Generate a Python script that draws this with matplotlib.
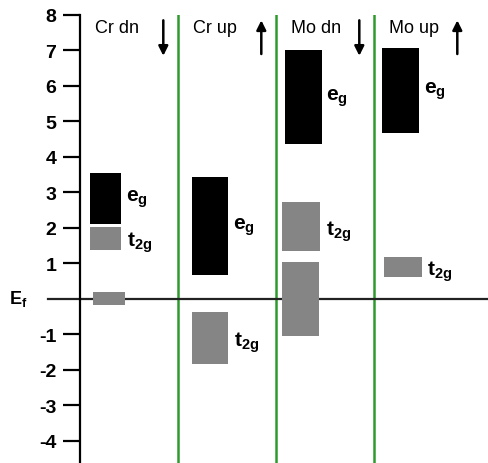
import matplotlib
matplotlib.use('Agg')
import matplotlib.pyplot as plt

plt.rcParams['font.family'] = ['Liberation Sans', 'DejaVu Sans']
plt.rcParams['mathtext.fontset'] = 'custom'
plt.rcParams['mathtext.rm'] = 'Liberation Sans'
plt.rcParams['mathtext.bf'] = 'Liberation Sans:bold'

# d-level energies (eV) relative to E_f for each metal / spin channel
columns = ['Cr dn', 'Cr up', 'Mo dn', 'Mo up']
spins = ['dn', 'up', 'dn', 'up']
eg_lo = [2.10, 0.67, 4.36, 4.67]
eg_hi = [3.55, 3.44, 7.00, 7.07]
t2g_lo = [1.38, -1.84, 1.34, 0.61]
t2g_hi = [2.02, -0.38, 2.72, 1.19]
# unlabelled t2g-like bands straddling the Fermi level
ef_col = [0, 2]
ef_lo = [-0.17, -1.04]
ef_hi = [0.20, 1.03]
yticks = [-4, -3, -2, -1, 1, 2, 3, 4, 5, 6, 7, 8]

# box placement inside each column (column width = 1)
eg_x = [0.10, 1.14, 2.09, 3.085]
eg_w = [0.32, 0.37, 0.375, 0.375]
t2g_x = [0.097, 1.14, 2.064, 3.105]
t2g_w = [0.32, 0.37, 0.39, 0.38]
ef_x = [0.13, 2.058]
ef_w = [0.33, 0.385]

fig = plt.figure(figsize=(4.88, 4.64), dpi=100)
ax = fig.add_axes([80 / 488, 0, 408 / 488, 448 / 464])
ax.set_xlim(0, 408 / 98)
ax.set_ylim(-4.63, 8)

green = '#2e9a2e'
gray = '#858585'

for k in range(1, 4):
    ax.axvline(k, color=green, lw=1.8, zorder=1)

# Fermi level
ax.plot([-0.33, 408 / 98], [0, 0], color='#222222', lw=1.6, clip_on=False, zorder=2)
ax.text(-0.72, 0.02, r'$\mathbf{E_f}$', fontsize=13, ha='left', va='center')

for i in range(len(columns)):
    ax.bar(eg_x[i], eg_hi[i] - eg_lo[i], bottom=eg_lo[i], width=eg_w[i],
           align='edge', color='black', zorder=3)
    ax.bar(t2g_x[i], t2g_hi[i] - t2g_lo[i], bottom=t2g_lo[i], width=t2g_w[i],
           align='edge', color=gray, zorder=3)
    ax.text(eg_x[i] + eg_w[i] + 0.05, (eg_lo[i] + eg_hi[i]) / 2, r'$\mathbf{e_g}$',
            fontsize=15, ha='left', va='center')
    ax.text(t2g_x[i] + t2g_w[i] + 0.06, (t2g_lo[i] + t2g_hi[i]) / 2 - 0.1, r'$\mathbf{t_{2g}}$',
            fontsize=15, ha='left', va='center')

    # column heading and spin arrow
    ax.text(i + 0.15, 7.66, columns[i], fontsize=13, ha='left', va='center')
    ax_x = i + 0.85
    if spins[i] == 'dn':
        start, end = 7.85, 6.85
    else:
        start, end = 6.9, 7.85
    ax.annotate('', xy=(ax_x, end), xytext=(ax_x, start),
                arrowprops=dict(arrowstyle='-|>', color='black', lw=1.8,
                                mutation_scale=14, shrinkA=0, shrinkB=0))

for j in range(len(ef_col)):
    ax.bar(ef_x[j], ef_hi[j] - ef_lo[j], bottom=ef_lo[j], width=ef_w[j],
           align='edge', color=gray, zorder=3)

ax.set_yticks(yticks)
ax.set_yticklabels([str(v) for v in yticks], fontsize=14, fontweight='bold')
ax.tick_params(axis='y', direction='out', length=12, width=1.6, pad=5)
ax.set_xticks([])
for s in ['top', 'right', 'bottom']:
    ax.spines[s].set_visible(False)
ax.spines['left'].set_linewidth(1.6)
ax.spines['left'].set_bounds(-4.63, 8)

fig.savefig('out.png', dpi=100)
